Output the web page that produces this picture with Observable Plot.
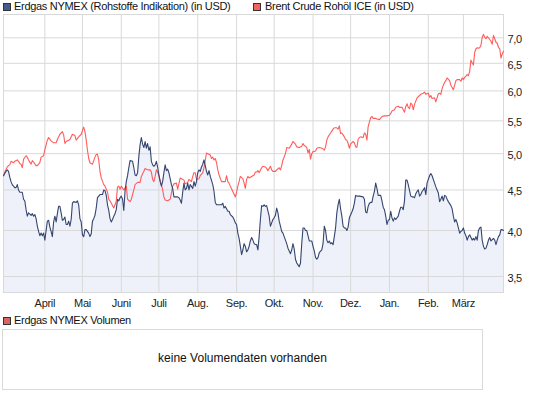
<!DOCTYPE html>
<html><head><meta charset="utf-8">
<script src="https://cdn.jsdelivr.net/npm/d3@7"></script>
<script src="https://cdn.jsdelivr.net/npm/@observablehq/plot@0.6"></script>
<style>
body{margin:0;background:#fff;font-family:"Liberation Sans",Arial,sans-serif;}
#wrap{position:relative;width:545px;height:398px;overflow:hidden;background:#fff}
.leg{position:absolute;font-size:11px;letter-spacing:-0.3px;color:#111;line-height:11px;white-space:nowrap}
.sq{position:absolute;width:6px;height:6px;border:1px solid #333}
#chart{position:absolute;left:0;top:13px}
#vol{position:absolute;left:2px;top:329px;width:481px;height:61px;box-sizing:border-box;border:1px solid #d9d9d9;background:#fff}
#volmsg{position:absolute;left:0;right:0;top:22px;text-align:center;font-size:12px;line-height:12px;color:#111}
</style></head>
<body>
<div id="wrap">
  <div class="sq" style="left:3px;top:3px;background:#465b8c"></div>
  <div class="leg" id="leg1" style="left:14px;top:1px"></div>
  <div class="sq" style="left:253px;top:3px;background:#f46262"></div>
  <div class="leg" id="leg2" style="left:265px;top:1px"></div>
  <div id="chart"></div>
  <div class="sq" style="left:3px;top:317px;background:#d96464"></div>
  <div class="leg" id="leg3" style="left:14px;top:315px"></div>
  <div id="vol"><div id="volmsg"></div></div>
</div>
<script>
// ---- data ----
const seriesNames = ["Erdgas NYMEX (Rohstoffe Indikation) (in USD)", "Brent Crude Rohöl ICE (in USD)"];
const volumeName = "Erdgas NYMEX Volumen";
const volumeMessage = "keine Volumendaten vorhanden";
const startDay = "2010-03-01"; // day offsets below count from this date
const xDomain = ["2010-02-27", "2011-04-02"];
const yDomain = [3.341, 7.49];
const yTicks = [3.5, 4.0, 4.5, 5.0, 5.5, 6.0, 6.5, 7.0];
const yTickLabels = ["3,5", "4,0", "4,5", "5,0", "5,5", "6,0", "6,5", "7,0"];
const monthTicks = ["2010-04-01","2010-05-01","2010-06-01","2010-07-01","2010-08-01","2010-09-01","2010-10-01","2010-11-01","2010-12-01","2011-01-01","2011-02-01","2011-03-01"];
const monthLabels = ["April","Mai","Juni","Juli","Aug.","Sep.","Okt.","Nov.","Dez.","Jan.","Feb.","März"];

// [day offset, value]
const gas = [[-2,4.69],[-1,4.72],[0,4.75],[1,4.77],[2,4.75],[3,4.67],[4,4.61],[5,4.57],[6,4.55],[7,4.53],[8,4.53],[9,4.57],[10,4.50],[11,4.47],[13,4.47],[14,4.38],[15,4.36],[16,4.25],[17,4.17],[18,4.21],[20,4.18],[21,4.20],[22,4.17],[23,4.19],[24,4.14],[25,4.05],[26,3.99],[27,3.94],[28,3.97],[29,3.94],[30,3.97],[31,3.89],[32,4.00],[33,4.11],[34,4.12],[35,4.04],[36,3.99],[37,3.93],[38,4.10],[39,4.17],[40,4.10],[41,4.20],[42,4.29],[43,4.29],[44,4.21],[45,4.12],[46,4.13],[47,4.16],[48,4.07],[49,4.07],[50,4.11],[51,4.05],[52,4.13],[53,4.33],[54,4.35],[56,4.34],[57,4.36],[58,4.31],[59,4.14],[60,4.10],[61,3.95],[62,3.93],[63,4.01],[64,4.01],[65,3.99],[66,3.97],[67,3.93],[68,3.96],[69,4.11],[70,4.14],[71,4.18],[72,4.27],[73,4.40],[74,4.42],[75,4.44],[77,4.44],[78,4.50],[79,4.49],[80,4.43],[81,4.31],[82,4.24],[83,4.14],[84,4.10],[85,4.13],[86,4.17],[87,4.20],[88,4.25],[89,4.38],[90,4.36],[91,4.40],[92,4.42],[93,4.38],[94,4.24],[95,4.49],[96,4.61],[97,4.69],[98,4.80],[99,4.90],[101,4.89],[102,4.80],[103,4.70],[104,4.69],[105,4.73],[106,4.96],[107,5.13],[108,5.24],[109,5.14],[110,5.09],[111,5.18],[112,5.08],[113,5.15],[114,5.05],[115,5.10],[116,4.89],[117,4.84],[118,4.82],[119,4.84],[120,4.89],[121,4.81],[122,4.70],[123,4.61],[124,4.55],[125,4.61],[126,4.73],[127,4.84],[128,4.76],[129,4.78],[130,4.73],[131,4.65],[132,4.57],[133,4.52],[134,4.41],[135,4.41],[137,4.41],[138,4.40],[139,4.37],[140,4.33],[141,4.47],[142,4.59],[143,4.50],[144,4.52],[145,4.59],[146,4.50],[147,4.57],[149,4.52],[150,4.61],[151,4.55],[152,4.61],[153,4.73],[154,4.77],[155,4.75],[156,4.81],[157,4.85],[158,4.91],[159,4.83],[160,4.75],[161,4.70],[162,4.76],[163,4.68],[165,4.57],[166,4.48],[167,4.34],[168,4.31],[170,4.31],[172,4.31],[173,4.33],[174,4.27],[175,4.29],[176,4.26],[177,4.23],[178,4.23],[179,4.19],[181,4.16],[182,4.13],[183,4.09],[184,4.07],[185,3.97],[186,3.91],[187,3.82],[188,3.73],[189,3.78],[190,3.85],[191,3.82],[192,3.76],[193,3.78],[194,3.82],[195,3.88],[196,3.92],[197,3.89],[198,3.85],[199,3.84],[200,3.84],[201,3.78],[202,3.93],[203,4.13],[204,4.30],[205,4.29],[206,4.31],[207,4.29],[208,4.30],[210,4.17],[211,4.05],[212,4.09],[213,4.13],[214,4.15],[215,4.18],[216,4.27],[217,4.21],[218,4.11],[219,4.05],[220,3.99],[221,3.97],[222,3.93],[223,3.89],[224,3.85],[225,3.80],[226,3.77],[227,3.74],[228,3.78],[229,3.85],[230,3.79],[231,3.68],[232,3.64],[233,3.62],[234,3.60],[235,3.64],[236,3.85],[237,4.03],[238,4.03],[239,4.00],[240,4.00],[241,3.94],[242,3.88],[243,3.88],[244,3.88],[245,3.82],[246,3.77],[247,3.70],[248,3.68],[249,3.70],[250,3.75],[252,3.78],[253,3.85],[254,4.05],[255,4.00],[256,3.89],[257,3.86],[258,3.88],[259,3.85],[260,3.86],[261,3.84],[262,3.93],[263,4.03],[264,4.21],[265,4.31],[266,4.38],[267,4.26],[268,4.17],[269,4.05],[270,4.03],[271,4.03],[272,4.00],[273,4.04],[274,4.15],[276,4.22],[277,4.26],[278,4.33],[279,4.43],[280,4.42],[282,4.42],[285,4.41],[286,4.38],[287,4.22],[288,4.21],[289,4.29],[290,4.33],[291,4.34],[292,4.34],[293,4.42],[294,4.48],[295,4.59],[296,4.52],[297,4.43],[299,4.43],[300,4.36],[301,4.28],[302,4.25],[303,4.17],[304,4.07],[305,4.12],[306,4.13],[307,4.23],[308,4.15],[309,4.11],[310,4.15],[311,4.13],[313,4.17],[314,4.23],[315,4.28],[316,4.28],[317,4.25],[318,4.36],[319,4.63],[320,4.63],[321,4.57],[323,4.42],[324,4.41],[325,4.41],[326,4.40],[327,4.45],[328,4.48],[329,4.50],[330,4.42],[331,4.44],[332,4.48],[333,4.50],[334,4.53],[335,4.44],[336,4.59],[337,4.64],[338,4.69],[339,4.72],[340,4.69],[342,4.59],[343,4.54],[344,4.50],[345,4.46],[346,4.35],[347,4.38],[348,4.42],[349,4.36],[350,4.43],[351,4.42],[352,4.38],[353,4.35],[355,4.30],[356,4.26],[357,4.17],[358,4.10],[359,4.13],[360,4.09],[361,4.03],[362,3.97],[363,3.99],[364,4.00],[365,4.03],[366,3.97],[367,3.94],[368,3.89],[369,3.93],[370,3.95],[372,3.89],[373,3.91],[374,3.89],[375,3.93],[376,3.89],[377,4.00],[378,4.03],[379,4.04],[380,3.89],[381,3.82],[382,3.79],[383,3.80],[384,3.84],[385,3.89],[386,3.92],[387,3.88],[389,3.91],[390,3.89],[391,3.84],[392,3.89],[393,3.93],[394,3.95],[395,4.01],[396,4.01],[397,4.00]];

const brent = [[-2,4.69],[-1,4.74],[1,4.81],[2,4.83],[3,4.84],[4,4.89],[6,4.87],[7,4.89],[9,4.91],[10,4.89],[11,4.86],[12,4.85],[13,4.80],[14,4.92],[16,4.97],[17,4.95],[18,4.91],[20,4.85],[21,4.90],[22,4.88],[24,4.83],[25,4.83],[27,4.87],[28,4.95],[30,4.97],[31,5.06],[33,5.20],[34,5.24],[36,5.19],[38,5.16],[40,5.16],[41,5.21],[43,5.29],[45,5.33],[46,5.28],[47,5.15],[48,5.18],[50,5.20],[51,5.21],[53,5.29],[55,5.27],[56,5.20],[58,5.25],[60,5.29],[62,5.40],[63,5.33],[64,5.20],[65,5.05],[66,4.93],[67,4.87],[69,4.85],[70,4.90],[71,4.95],[72,4.99],[73,4.99],[74,4.91],[75,4.75],[76,4.66],[78,4.57],[79,4.55],[80,4.51],[81,4.47],[82,4.38],[83,4.36],[84,4.33],[86,4.27],[87,4.31],[88,4.36],[89,4.54],[90,4.55],[91,4.51],[92,4.55],[94,4.50],[96,4.55],[97,4.38],[99,4.35],[100,4.38],[102,4.50],[103,4.57],[105,4.60],[107,4.60],[108,4.68],[110,4.75],[111,4.79],[113,4.77],[115,4.77],[116,4.74],[117,4.64],[118,4.61],[119,4.68],[120,4.77],[121,4.74],[123,4.63],[124,4.57],[125,4.50],[126,4.41],[127,4.37],[129,4.36],[131,4.38],[132,4.46],[133,4.55],[134,4.58],[136,4.59],[137,4.51],[139,4.66],[140,4.65],[142,4.63],[143,4.58],[145,4.60],[146,4.64],[148,4.61],[149,4.68],[150,4.73],[151,4.73],[152,4.64],[154,4.65],[155,4.69],[157,4.73],[158,4.80],[160,5.01],[161,5.00],[163,4.98],[164,4.93],[165,4.95],[166,4.91],[167,4.93],[168,4.87],[169,4.77],[170,4.70],[172,4.61],[175,4.61],[176,4.69],[177,4.61],[178,4.59],[179,4.55],[181,4.48],[183,4.41],[184,4.47],[185,4.55],[186,4.61],[187,4.68],[189,4.65],[190,4.59],[191,4.52],[192,4.64],[193,4.68],[194,4.66],[196,4.68],[198,4.70],[199,4.74],[200,4.74],[201,4.76],[202,4.73],[204,4.80],[205,4.82],[207,4.81],[208,4.79],[209,4.76],[210,4.79],[211,4.82],[212,4.77],[213,4.75],[215,4.75],[216,4.77],[218,4.80],[219,4.77],[220,4.83],[221,4.91],[223,5.00],[224,5.09],[226,5.08],[228,5.14],[229,5.18],[231,5.14],[232,5.10],[234,5.09],[236,5.11],[237,5.15],[238,5.12],[239,5.11],[240,5.09],[241,5.01],[242,5.06],[243,4.92],[244,5.00],[245,5.03],[247,5.04],[248,5.08],[250,5.09],[252,5.08],[253,5.07],[254,5.05],[255,5.10],[256,5.20],[257,5.25],[259,5.31],[261,5.37],[262,5.39],[264,5.39],[265,5.37],[266,5.42],[267,5.30],[268,5.31],[269,5.28],[270,5.25],[271,5.21],[272,5.20],[273,5.15],[274,5.08],[275,5.14],[277,5.18],[278,5.16],[279,5.10],[280,5.09],[281,5.21],[282,5.24],[283,5.25],[285,5.24],[286,5.31],[287,5.29],[288,5.20],[289,5.41],[290,5.48],[291,5.55],[292,5.57],[293,5.54],[295,5.54],[296,5.53],[298,5.52],[300,5.57],[302,5.58],[304,5.58],[306,5.59],[307,5.62],[308,5.66],[310,5.68],[311,5.72],[313,5.74],[314,5.72],[316,5.72],[317,5.68],[318,5.64],[319,5.73],[320,5.78],[321,5.72],[322,5.70],[323,5.79],[324,5.77],[325,5.68],[326,5.77],[328,5.88],[330,5.92],[331,5.94],[333,5.96],[334,5.98],[335,5.94],[336,5.95],[337,5.96],[338,5.89],[339,5.92],[340,5.87],[342,5.88],[343,5.81],[344,5.88],[345,5.95],[346,5.96],[347,5.94],[348,6.04],[349,6.10],[350,6.15],[351,6.18],[352,6.23],[354,6.18],[355,6.10],[357,6.02],[358,6.10],[359,6.18],[360,6.20],[362,6.20],[363,6.17],[364,6.23],[365,6.20],[366,6.24],[367,6.26],[368,6.29],[369,6.27],[370,6.35],[371,6.56],[372,6.51],[373,6.47],[374,6.71],[375,6.78],[376,6.80],[377,6.79],[378,6.80],[379,6.85],[380,7.01],[381,7.07],[382,7.01],[383,6.98],[384,7.03],[385,7.00],[387,6.93],[388,6.87],[389,7.05],[390,6.98],[391,6.91],[392,6.89],[393,6.81],[394,6.78],[395,6.60],[396,6.68],[397,6.73]];

// ---- build ----
document.getElementById("leg1").textContent = seriesNames[0];
document.getElementById("leg2").textContent = seriesNames[1];
document.getElementById("leg3").textContent = volumeName;
document.getElementById("volmsg").textContent = volumeMessage;

const base = new Date(startDay + "T00:00:00Z").getTime();
const toDate = k => new Date(base + k * 864e5);
const gasData = gas.map(([k, v]) => ({date: toDate(k), v}));
const brentData = brent.map(([k, v]) => ({date: toDate(k), v}));
const monthDates = monthTicks.map(s => new Date(s + "T00:00:00Z"));

const chart = Plot.plot({
  width: 545, height: 300,
  marginLeft: 3, marginRight: 42, marginTop: 1, marginBottom: 21,
  style: {fontFamily: '"Liberation Sans", Arial, sans-serif', fontSize: "11px", color: "#222", background: "transparent", letterSpacing: "-0.3px"},
  x: {type: "utc", domain: xDomain.map(s => new Date(s + "T00:00:00Z")), label: null},
  y: {type: "log", domain: yDomain, label: null},
  marks: [
    Plot.areaY(gasData, {x: "date", y1: yDomain[0], y2: "v", fill: "#eef1fa"}),
    Plot.gridX(monthDates, {stroke: "#d9d9d9", strokeOpacity: 1}),
    Plot.gridY(yTicks, {stroke: "#d9d9d9", strokeOpacity: 1}),
    Plot.frame({stroke: "#d9d9d9"}),
    Plot.line(brentData, {x: "date", y: "v", stroke: "#ff5c5c", strokeWidth: 1.1}),
    Plot.line(gasData, {x: "date", y: "v", stroke: "#34456f", strokeWidth: 1.1}),
    Plot.axisY(yTicks, {anchor: "right", label: null, tickSize: 0, tickPadding: 4, dy: 2,
      tickFormat: d => yTickLabels[yTicks.indexOf(d)]}),
    Plot.axisX(monthDates, {anchor: "bottom", label: null, tickSize: 0, tickPadding: 7,
      tickFormat: d => monthLabels[monthDates.findIndex(t => +t === +d)]})
  ]
});
document.getElementById("chart").appendChild(chart);
</script>
</body></html>
